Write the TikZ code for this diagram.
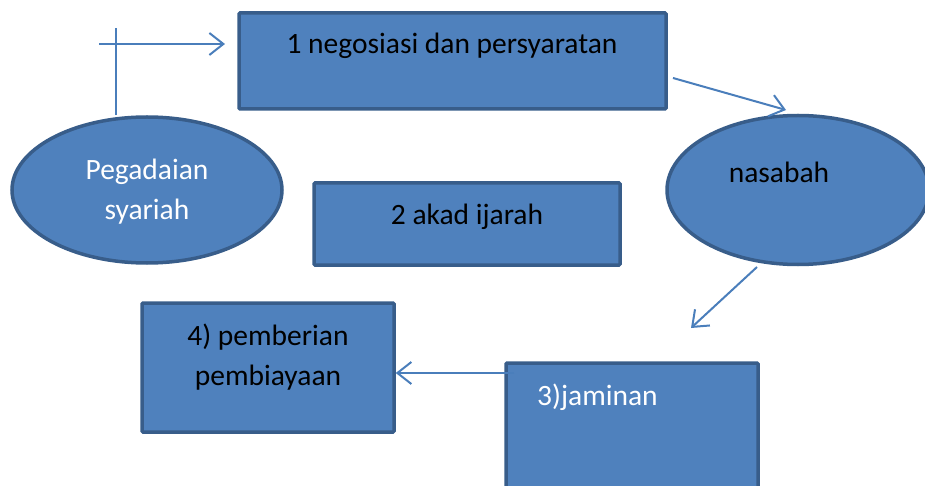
\documentclass[tikz,border=0pt]{standalone}
\usepackage{fontspec}
\setmainfont{Carlito}
\usetikzlibrary{arrows.meta,shapes.geometric}
\definecolor{boxfill}{HTML}{4F81BD}
\definecolor{boxline}{HTML}{385D8A}
\definecolor{arrowc}{HTML}{4A7EBB}
\begin{document}
\begin{tikzpicture}[x=1pt,y=-1pt,
  shapebox/.style={draw=boxline,fill=boxfill,line width=3.5pt,rounded corners=1pt,inner sep=0pt},
  oval/.style={draw=boxline,fill=boxfill,line width=3.5pt,ellipse,inner sep=0pt},
  lbl/.style={anchor=base,inner sep=0pt,font=\fontsize{29.5}{40}\selectfont,align=center},
  conn/.style={draw=arrowc,line width=2pt,-{Straight Barb[length=14pt,width=22pt,line width=2pt]}},
  plain/.style={draw=arrowc,line width=2pt}]
\useasboundingbox (0,0) rectangle (925,486);
\clip (0,0) rectangle (925,486);
% shapes
\node[shapebox,minimum width=427pt,minimum height=96pt] (b1) at (452.5,61) {};
\node[oval,minimum width=270pt,minimum height=146pt] (peg) at (147,190) {};
\node[shapebox,minimum width=306pt,minimum height=82pt] (b2) at (467,224) {};
\node[oval,minimum width=262pt,minimum height=149pt] (nas) at (798,190) {};
\node[shapebox,minimum width=252pt,minimum height=129pt] (b4) at (268,367.5) {};
\node[shapebox,minimum width=252pt,minimum height=160pt] (b3) at (632,443) {};
% labels
\node[lbl,text=black] (t1) at (452,54) {1 negosiasi dan persyaratan};
\node[lbl,text=white] (tpeg) at (147,220) {Pegadaian\\syariah};
\node[lbl,text=black] (t2) at (467,225) {2 akad ijarah};
\node[lbl,text=black] (tnas) at (779,183) {nasabah};
\node[lbl,text=black] (t4) at (268,385) {4) pemberian\\pembiayaan};
\node[lbl,text=white,anchor=base west] (t3) at (537,405) {3)jaminan};
% connectors
\coordinate (vtop) at (116,28);
\coordinate (hstart) at (99,44);
\coordinate (hend) at (225,44);
\coordinate (a2s) at (673,78);
\coordinate (a2e) at (786,110);
\coordinate (a3s) at (757,267);
\coordinate (a3e) at (691,328);
\path[plain] (peg.north -| vtop) -- (vtop);
\path[conn] (hstart) -- (hend);
\path[conn] (a2s) -- (a2e);
\path[conn] (a3s) -- (a3e);
\path[conn] (b3.north west |- 0,373) ++(10,0) -- (b4.east |- 0,373);
\end{tikzpicture}
\end{document}
